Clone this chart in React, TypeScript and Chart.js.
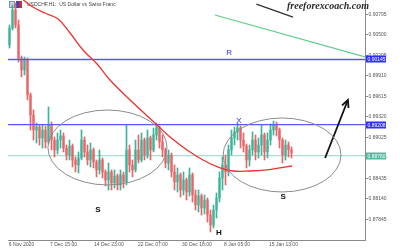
import React, { useEffect, useRef } from 'react';
import { Chart, registerables } from 'chart.js';

Chart.register(...registerables);

// ---- data (hourly USDCHF, sampled) ----
const firstOpen = 0.90353;
const closes = [
  0.90598, 0.90857, 0.90641, 0.90166, 0.89994, 0.90138, 0.89634, 0.89346, 0.89130, 0.89174,
  0.89015, 0.89130, 0.88958, 0.89202, 0.88986, 0.88843, 0.88986, 0.89044, 0.88871, 0.88771,
  0.88900, 0.88699, 0.88627, 0.88727, 0.88986, 0.88814, 0.88699, 0.88843, 0.88670, 0.88555,
  0.88699, 0.88526, 0.88411, 0.88526, 0.88368, 0.88468, 0.88339, 0.88483, 0.88382, 0.88843,
  0.88627, 0.88555, 0.88843, 0.88699, 0.88986, 0.88771, 0.89015, 0.88843, 0.89058, 0.89159,
  0.88958, 0.88843, 0.88655, 0.88771, 0.88526, 0.88382, 0.88483, 0.88267, 0.88411, 0.88238,
  0.88483, 0.88195, 0.88051, 0.88181, 0.88008, 0.88123, 0.87907, 0.87763, 0.87979, 0.88152,
  0.88440, 0.88627, 0.88526, 0.88843, 0.89015, 0.89102, 0.89159, 0.88986, 0.88900, 0.88699,
  0.88843, 0.88986, 0.88814, 0.88914, 0.89058, 0.88814, 0.88986, 0.89130, 0.89202, 0.89130,
  0.88986, 0.88771, 0.88914, 0.88843, 0.88799,
];
const highs = [
  0.90641, 0.90929, 0.90958, 0.90713, 0.90195, 0.90181, 0.90166, 0.89663, 0.89418, 0.89231,
  0.89202, 0.89202, 0.89188, 0.89461, 0.89245, 0.89030, 0.89087, 0.89130, 0.89087, 0.88914,
  0.88986, 0.88929, 0.88742, 0.88814, 0.89130, 0.89030, 0.88914, 0.88943, 0.88871, 0.88699,
  0.88843, 0.88727, 0.88555, 0.88655, 0.88555, 0.88555, 0.88497, 0.88555, 0.88526, 0.89202,
  0.88914, 0.88699, 0.88986, 0.89058, 0.89087, 0.89015, 0.89130, 0.89044, 0.89159, 0.89231,
  0.89188, 0.89058, 0.88871, 0.88843, 0.88799, 0.88627, 0.88584, 0.88512, 0.88526, 0.88440,
  0.88584, 0.88512, 0.88267, 0.88267, 0.88209, 0.88195, 0.88152, 0.87979, 0.88051, 0.88224,
  0.88526, 0.88742, 0.88771, 0.88914, 0.89130, 0.89174, 0.89231, 0.89188, 0.89087, 0.88929,
  0.88914, 0.89102, 0.89058, 0.89015, 0.89202, 0.89087, 0.89087, 0.89217, 0.89260, 0.89245,
  0.89159, 0.89015, 0.88986, 0.88958, 0.88886,
];
const lows = [
  0.90310, 0.90569, 0.90598, 0.90109, 0.89893, 0.89922, 0.89562, 0.89130, 0.88986, 0.88943,
  0.88914, 0.88871, 0.88871, 0.88929, 0.88843, 0.88742, 0.88785, 0.88871, 0.88814, 0.88699,
  0.88699, 0.88598, 0.88526, 0.88512, 0.88699, 0.88742, 0.88627, 0.88598, 0.88584, 0.88454,
  0.88497, 0.88440, 0.88324, 0.88267, 0.88267, 0.88296, 0.88267, 0.88267, 0.88296, 0.88339,
  0.88526, 0.88454, 0.88526, 0.88655, 0.88670, 0.88699, 0.88727, 0.88699, 0.88814, 0.88986,
  0.88871, 0.88742, 0.88584, 0.88555, 0.88454, 0.88267, 0.88238, 0.88166, 0.88195, 0.88123,
  0.88181, 0.88094, 0.87979, 0.87950, 0.87907, 0.87922, 0.87806, 0.87663, 0.87720, 0.87864,
  0.88094, 0.88267, 0.88339, 0.88468, 0.88771, 0.88914, 0.88986, 0.88871, 0.88814, 0.88584,
  0.88612, 0.88771, 0.88699, 0.88727, 0.88771, 0.88699, 0.88727, 0.88914, 0.89058, 0.89044,
  0.88871, 0.88655, 0.88699, 0.88742, 0.88727,
];

// moving average
const maX = [3.8, 7.8, 11.8, 16.2, 20.2, 24.5, 29.2, 33.5, 40.2, 45.2, 49.2, 53.5, 59.2, 64.5, 70.2, 74.5, 80.2, 85.8, 90.2, 94.2];
const maY = [0.91030, 0.90900, 0.90814, 0.90728, 0.90526, 0.90281, 0.90080, 0.89849, 0.89562, 0.89360, 0.89202, 0.89030, 0.88843, 0.88699, 0.88584, 0.88540, 0.88540, 0.88555, 0.88584, 0.88612];

// levels and drawn objects
const levelR = 0.90145;
const levelX = 0.89208;
const levelMid = 0.88760;
const greenTrendX = [68.5, 118.5];
const greenTrendY = [0.90785, 0.90181];
const blackTrendX = [82.3, 94.5];
const blackTrendY = [0.90943, 0.90756];
const arrowX = [105.2, 112.8];
const arrowY = [0.88727, 0.89562];

// ellipses: [xMin, xMax, yMin, yMax] in data units
const ellipseLeft = [12.8, 52.5, 0.88339, 0.89418];
const ellipseRight = [71.2, 110.5, 0.88238, 0.89303];

// text marks
const markTexts = ['S', 'S', 'H', 'R', 'X'];
const markX = [29.5, 91.2, 69.8, 73.2, 76.5];
const markY = [0.87979, 0.88166, 0.87648, 0.90238, 0.89260];
const markColors = ['#111', '#111', '#111', '#3030e0', '#3030e0'];

// axes
const xMin = -0.5;
const xMax = 118.5;
const xTickPositions = [-0.25, 13.5, 28.17, 42.83, 57.5, 71.5, 86.5];
const xTickLabels = ['6 Nov 2020', '7 Dec 15:00', '14 Dec 23:00', '22 Dec 07:00', '30 Dec 18:00', '8 Jan 05:00', '15 Jan 13:00'];
const yMin = 0.87547;
const yMax = 0.91001;
const yTickValues = [0.87845, 0.8814, 0.88435, 0.8873, 0.89025, 0.8932, 0.89615, 0.8991, 0.90205, 0.905, 0.90795];

const UP = '#3db49a';
const DOWN = '#ea6466';
const LEVEL_BLUE = '#5858ff';

export default function App() {
  const ref = useRef<HTMLCanvasElement | null>(null);

  useEffect(() => {
    const canvas = ref.current;
    if (!canvas) return;
    const opens = closes.map((_, i) => (i === 0 ? firstOpen : closes[i - 1]));
    const candleColor = (i: number) => (closes[i] >= opens[i] ? UP : DOWN);

    const overlay = {
      id: 'overlay',
      beforeDatasetsDraw(chart: any) {
        const ctx = chart.ctx;
        ctx.save();
        // header icons
        ctx.fillStyle = '#c9d2ea';
        ctx.fillRect(9, 1, 6, 7);
        ctx.strokeStyle = '#7f8fb8';
        ctx.lineWidth = 1;
        ctx.strokeRect(9.5, 1.5, 5, 6);
        ctx.fillStyle = '#2c48c8';
        ctx.fillRect(16, 1, 3, 7);
        ctx.fillStyle = '#cc3030';
        ctx.fillRect(19, 1, 3, 7);
        ctx.fillStyle = '#444';
        ctx.font = '5px "Liberation Sans"';
        ctx.textBaseline = 'middle';
        ctx.textAlign = 'left';
        ctx.fillText('USDCHF,H1:  US Dollar vs Swiss Franc', 27, 5);
        ctx.restore();
      },
      afterDatasetsDraw(chart: any) {
        const ctx = chart.ctx;
        const sx = chart.scales.x;
        const sy = chart.scales.y;
        const px = (v: number) => sx.getPixelForValue(v);
        const py = (v: number) => sy.getPixelForValue(v);
        ctx.save();
        // ellipses
        ctx.strokeStyle = '#8c8c8c';
        ctx.lineWidth = 1;
        [ellipseLeft, ellipseRight].forEach((e) => {
          const x0 = px(e[0]), x1 = px(e[1]);
          const y0 = py(e[3]), y1 = py(e[2]);
          ctx.beginPath();
          ctx.ellipse((x0 + x1) / 2, (y0 + y1) / 2, (x1 - x0) / 2, (y1 - y0) / 2, 0, 0, Math.PI * 2);
          ctx.stroke();
        });
        // arrow head
        const tx = px(arrowX[1]), ty = py(arrowY[1]);
        const bx = px(arrowX[0]), by = py(arrowY[0]);
        const ang = Math.atan2(ty - by, tx - bx);
        ctx.strokeStyle = '#111';
        ctx.lineWidth = 1.8;
        ctx.beginPath();
        ctx.moveTo(tx - 8 * Math.cos(ang - 0.45), ty - 8 * Math.sin(ang - 0.45));
        ctx.lineTo(tx, ty);
        ctx.lineTo(tx - 8 * Math.cos(ang + 0.45), ty - 8 * Math.sin(ang + 0.45));
        ctx.stroke();
        // text marks
        ctx.textAlign = 'center';
        ctx.textBaseline = 'middle';
        markTexts.forEach((t, i) => {
          ctx.fillStyle = markColors[i];
          ctx.font = i < 3 ? 'bold 8px "Liberation Sans"' : '8px "Liberation Sans"';
          ctx.fillText(t, px(markX[i]), py(markY[i]));
        });
        ctx.restore();
      },
      afterDraw(chart: any) {
        const ctx = chart.ctx;
        const sy = chart.scales.y;
        const right = chart.chartArea.right;
        ctx.save();
        const boxes: [number, string][] = [
          [levelR, '#2e2eff'],
          [levelX, '#2e2eff'],
          [levelMid, '#56b89e'],
        ];
        ctx.font = '5px "Liberation Sans"';
        ctx.textAlign = 'left';
        ctx.textBaseline = 'middle';
        boxes.forEach(([v, c]) => {
          const y = Math.round(sy.getPixelForValue(v));
          ctx.fillStyle = c;
          ctx.fillRect(right + 1, y - 3.5, 20, 7);
          ctx.fillStyle = '#fff';
          ctx.fillText(v.toFixed(5), right + 2.5, y + 0.3);
        });
        // watermark
        ctx.fillStyle = '#2a2a2a';
        ctx.font = 'italic bold 10px "Liberation Serif"';
        ctx.textAlign = 'left';
        ctx.textBaseline = 'middle';
        ctx.fillText('freeforexcoach.com', 287, 6);
        ctx.restore();
      },
    };

    const hline = (v: number) => [
      { x: xMin, y: v },
      { x: xMax, y: v },
    ];
    const pts = (xs: number[], ys: number[]) => xs.map((x, i) => ({ x, y: ys[i] }));

    const chart = new Chart(canvas, {
      type: 'bar',
      data: {
        datasets: [
          {
            type: 'line',
            data: hline(levelMid),
            borderColor: '#a9ddd1',
            borderWidth: 1.2,
            pointRadius: 0,
            order: 20,
          } as any,
          {
            type: 'bar',
            data: closes.map((_, i) => ({ x: i, y: [lows[i], highs[i]] })),
            backgroundColor: (c: any) => candleColor(c.dataIndex),
            barThickness: 1,
            grouped: false,
            order: 15,
          } as any,
          {
            type: 'bar',
            data: closes.map((c, i) => ({ x: i, y: [opens[i], c] })),
            backgroundColor: (c: any) => candleColor(c.dataIndex),
            barThickness: 1.6,
            minBarLength: 1,
            grouped: false,
            order: 14,
          } as any,
          {
            type: 'line',
            data: hline(levelR),
            borderColor: LEVEL_BLUE,
            borderWidth: 1.3,
            pointRadius: 0,
            order: 10,
          } as any,
          {
            type: 'line',
            data: hline(levelX),
            borderColor: LEVEL_BLUE,
            borderWidth: 1.3,
            pointRadius: 0,
            order: 10,
          } as any,
          {
            type: 'line',
            data: pts(maX, maY),
            borderColor: '#ee3030',
            borderWidth: 1.3,
            pointRadius: 0,
            tension: 0.4,
            order: 8,
          } as any,
          {
            type: 'line',
            data: pts(greenTrendX, greenTrendY),
            borderColor: '#5fcb8a',
            borderWidth: 1.2,
            pointRadius: 0,
            order: 6,
          } as any,
          {
            type: 'line',
            data: pts(blackTrendX, blackTrendY),
            borderColor: '#333',
            borderWidth: 1.3,
            pointRadius: 0,
            order: 6,
          } as any,
          {
            type: 'line',
            data: pts(arrowX, arrowY),
            borderColor: '#111',
            borderWidth: 1.8,
            pointRadius: 0,
            order: 5,
          } as any,
        ],
      },
      options: {
        responsive: false,
        animation: false,
        devicePixelRatio: 1,
        events: [],
        layout: { padding: { left: 8, top: 0, right: 0, bottom: 0 } },
        plugins: { legend: { display: false }, tooltip: { enabled: false } },
        scales: {
          x: {
            type: 'linear',
            min: xMin,
            max: xMax,
            offset: false,
            afterBuildTicks: (s: any) => {
              s.ticks = xTickPositions.map((v) => ({ value: v }));
            },
            afterFit: (s: any) => {
              s.height = 10;
              s.paddingLeft = 0;
              s.paddingRight = 0;
            },
            ticks: {
              autoSkip: false,
              maxRotation: 0,
              align: 'start',
              padding: 0,
              color: '#555',
              font: { family: 'Liberation Sans', size: 5 },
              callback: (_v: any, i: number) => xTickLabels[i],
            },
            grid: { drawOnChartArea: false, drawTicks: true, tickLength: 2, color: '#8a8a8a' },
            border: { display: true, color: '#8a8a8a' },
          },
          y: {
            type: 'linear',
            position: 'right',
            min: yMin,
            max: yMax,
            afterBuildTicks: (s: any) => {
              s.ticks = yTickValues.map((v) => ({ value: v }));
            },
            afterFit: (s: any) => {
              s.width = 35;
              s.paddingTop = 0;
              s.paddingBottom = 0;
            },
            ticks: {
              padding: 0.5,
              color: '#555',
              font: { family: 'Liberation Sans', size: 5 },
              callback: (v: any) => Number(v).toFixed(5),
            },
            grid: { drawOnChartArea: false, drawTicks: true, tickLength: 3, color: '#8a8a8a' },
            border: { display: true, color: '#8a8a8a' },
          },
        },
      } as any,
      plugins: [overlay],
    });
    return () => chart.destroy();
  }, []);

  return (
    <canvas
      ref={ref}
      width={400}
      height={250}
      style={{ position: 'fixed', left: 0, top: 0, display: 'block', background: '#fff' }}
    />
  );
}
